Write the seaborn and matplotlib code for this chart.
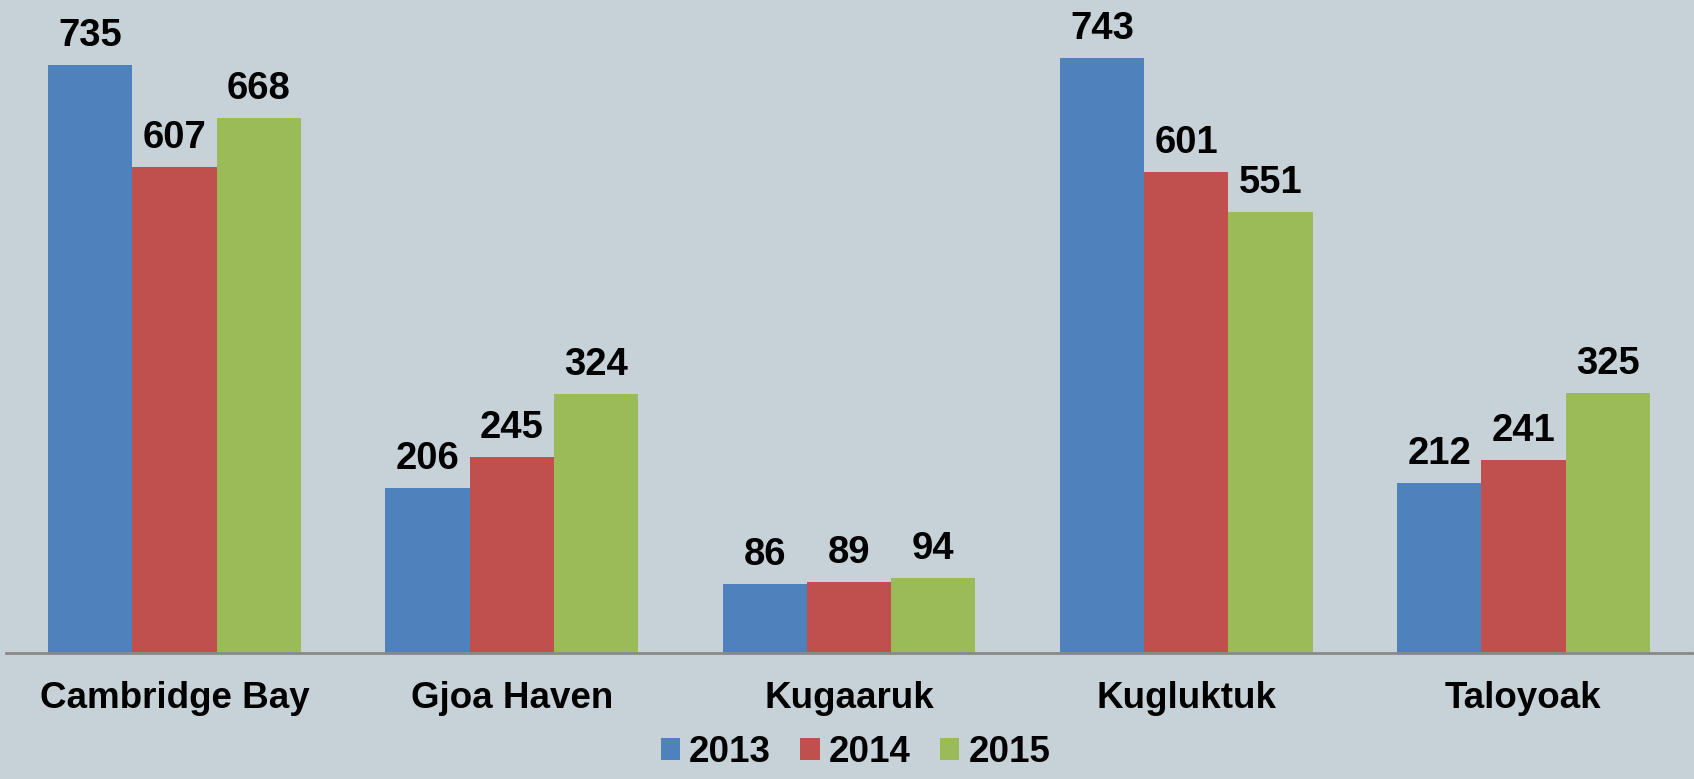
import pandas as pd
import seaborn as sns
import matplotlib.pyplot as plt

communities = ['Cambridge Bay', 'Gjoa Haven', 'Kugaaruk', 'Kugluktuk', 'Taloyoak']
years = ['2013', '2014', '2015']
values_2013 = [735, 206, 86, 743, 212]
values_2014 = [607, 245, 89, 601, 241]
values_2015 = [668, 324, 94, 551, 325]

colors = ['#4F81BD', '#C0504D', '#9BBB59']
bg = '#C6D1D8'

df = pd.DataFrame({
    'community': communities * 3,
    'year': [y for y in years for _ in communities],
    'value': values_2013 + values_2014 + values_2015,
})

sns.set_style('white')
plt.rcParams['font.family'] = ['Liberation Sans', 'DejaVu Sans']
plt.rcParams['text.color'] = 'black'
plt.rcParams['xtick.color'] = 'black'

fig = plt.figure(figsize=(16.94, 7.79), dpi=100, facecolor=bg)
ax = fig.add_axes([6 / 1694, (779 - 653) / 779, 1686 / 1694, 653 / 779])
ax.set_facecolor(bg)

sns.barplot(data=df, x='community', y='value', hue='year', palette=colors,
            width=0.75, gap=0, saturation=1, linewidth=0, ax=ax)

for cont in ax.containers:
    ax.bar_label(cont, padding=8, fontsize=27.5, fontweight='bold', color='black')

ax.set_ylim(0, 816)
ax.set_xlim(-0.5, 4.5)
ax.set_yticks([])
ax.set_xlabel('')
ax.set_ylabel('')
for s in ['top', 'right', 'left']:
    ax.spines[s].set_visible(False)
ax.spines['bottom'].set_color('#898989')
ax.spines['bottom'].set_linewidth(2)
ax.tick_params(axis='x', length=0, pad=20, labelsize=26.5, labelcolor='black')
for t in ax.get_xticklabels():
    t.set_fontweight('bold')

# legend sits low, close to the bottom edge like the original
handles, labels = ax.get_legend_handles_labels()
ax.get_legend().remove()
fig.legend(handles, labels, loc='lower center', bbox_to_anchor=(0.505, -0.012), ncol=3,
           frameon=False, prop={'weight': 'bold', 'size': 26.5}, borderpad=0,
           handlelength=0.52, handleheight=0.52, handletextpad=0.25, columnspacing=0.8)

fig.savefig('out.png', dpi=100, facecolor=bg)
